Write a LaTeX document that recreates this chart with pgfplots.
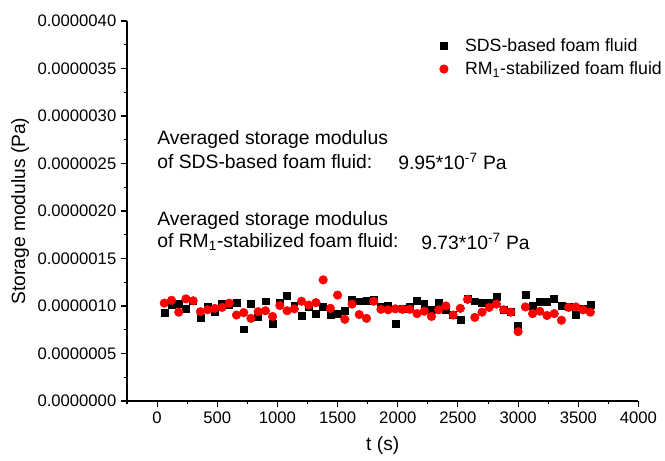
\documentclass[border=0pt]{standalone}
\usepackage{pgfplots}
\pgfplotsset{compat=1.18}
\usepackage{fontspec}
\setmainfont{Liberation Sans}
\definecolor{ptred}{RGB}{255,0,0}
\begin{document}
\begin{tikzpicture}
\useasboundingbox (-95.25pt,-45pt) rectangle (403.5pt,300.75pt);
\begin{axis}[
  scale only axis, width=383.6pt, height=285pt,
  at={(0,0)}, anchor=south west,
  xmin=-250, xmax=4000, ymin=0, ymax=4e-6,
  axis x line*=bottom, axis y line*=left,
  axis line style={line width=0.8pt},
  tick align=outside,
  major tick length=4.5pt, minor tick length=2.5pt,
  every tick/.style={line width=0.8pt, black},
  xtick={0,500,...,4000},
  minor xtick={-250,250,750,1250,1750,2250,2750,3250,3750},
  ytick={0,5e-7,1e-6,1.5e-6,2e-6,2.5e-6,3e-6,3.5e-6,4e-6},
  yticklabels={0.0000000,0.0000005,0.0000010,0.0000015,0.0000020,0.0000025,0.0000030,0.0000035,0.0000040},
  minor ytick={2.5e-7,7.5e-7,1.25e-6,1.75e-6,2.25e-6,2.75e-6,3.25e-6,3.75e-6},
  scaled y ticks=false, scaled x ticks=false,
  /pgf/number format/1000 sep={},
  /pgf/number format/assume math mode=true,
  tick label style={font=\fontsize{12.5}{14}\selectfont},
  xlabel={t (s)}, ylabel={Storage modulus (Pa)},
  label style={font=\fontsize{14.4}{16}\selectfont},
  xlabel style={at={(axis description cs:0.5,-0.118)}, anchor=center},
  ylabel style={at={(axis description cs:-0.209,0.5)}, anchor=center},
  legend style={draw=none, fill=none, at={(rel axis cs:0.603,0.968)}, anchor=north west,
    font=\fontsize{13.3}{15}\selectfont, row sep=2pt},
  legend cell align=left,
  legend image code/.code={\path (0.21cm,0cm) (0.78cm,0cm); \draw[#1] plot coordinates {(0.3cm,0cm)};},
  clip=false,
]
\addplot[only marks, mark=square*, mark size=2.6pt, black, mark options={fill=black, draw=black}] coordinates {
(60,9.30e-7) (120,1.010e-6) (180,1.020e-6) (240,9.75e-7) (300,1.050e-6) (360,8.80e-7)
(420,9.90e-7) (480,9.40e-7) (540,1.020e-6) (600,1.010e-6) (660,1.030e-6) (720,7.55e-7)
(780,1.020e-6) (840,8.90e-7) (900,1.050e-6) (960,8.10e-7) (1020,1.030e-6) (1080,1.110e-6)
(1140,1.000e-6) (1200,9.00e-7) (1260,9.90e-7) (1320,9.20e-7) (1380,9.90e-7) (1440,9.10e-7)
(1500,9.15e-7) (1560,9.50e-7) (1620,1.070e-6) (1680,1.050e-6) (1740,1.060e-6) (1800,1.070e-6)
(1860,9.90e-7) (1920,1.000e-6) (1980,8.10e-7) (2040,9.70e-7) (2100,9.90e-7) (2160,1.060e-6)
(2220,1.020e-6) (2280,9.60e-7) (2340,1.035e-6) (2400,9.65e-7) (2460,9.10e-7) (2520,8.60e-7)
(2580,1.080e-6) (2640,1.050e-6) (2700,1.035e-6) (2760,1.030e-6) (2820,1.100e-6) (2880,9.65e-7)
(2940,9.40e-7) (3000,7.90e-7) (3060,1.120e-6) (3120,1.000e-6) (3180,1.045e-6) (3240,1.045e-6)
(3300,1.080e-6) (3360,1.000e-6) (3420,9.90e-7) (3480,9.05e-7) (3540,9.75e-7) (3600,1.010e-6)
};
\addlegendentry{SDS-based foam fluid}
\addplot[only marks, mark=*, mark size=3.2pt, ptred, mark options={fill=ptred, draw=ptred}] coordinates {
(60,1.030e-6) (120,1.060e-6) (180,9.35e-7) (240,1.075e-6) (300,1.055e-6) (360,9.40e-7)
(420,9.60e-7) (480,9.75e-7) (540,9.85e-7) (600,1.030e-6) (660,9.05e-7) (720,9.30e-7)
(780,8.70e-7) (840,9.40e-7) (900,9.50e-7) (960,8.90e-7) (1020,1.005e-6) (1080,9.50e-7)
(1140,9.70e-7) (1200,1.050e-6) (1260,1.010e-6) (1320,1.035e-6) (1380,1.275e-6) (1440,9.75e-7)
(1500,1.115e-6) (1560,8.60e-7) (1620,1.020e-6) (1680,9.10e-7) (1740,8.70e-7) (1800,1.050e-6)
(1860,9.65e-7) (1920,9.60e-7) (1980,9.70e-7) (2040,9.65e-7) (2100,9.65e-7) (2160,9.20e-7)
(2220,9.45e-7) (2280,8.90e-7) (2340,9.60e-7) (2400,1.000e-6) (2460,9.05e-7) (2520,9.75e-7)
(2580,1.070e-6) (2640,8.80e-7) (2700,9.35e-7) (2760,9.85e-7) (2820,1.020e-6) (2880,9.60e-7)
(2940,9.35e-7) (3000,7.30e-7) (3060,9.90e-7) (3120,9.20e-7) (3180,9.45e-7) (3240,9.00e-7)
(3300,9.20e-7) (3360,8.50e-7) (3420,9.85e-7) (3480,9.90e-7) (3540,9.60e-7) (3600,9.35e-7)
};
\addlegendentry{RM\textsubscript{1}-stabilized foam fluid}
\begin{scope}[every node/.style={font=\fontsize{14.5}{16}\selectfont, anchor=base west, inner sep=0pt}]
\node at (rel axis cs:0.0587,0.674) {Averaged storage modulus};
\node at (rel axis cs:0.0587,0.613) {of SDS-based foam fluid:};
\node at (rel axis cs:0.530,0.610) {9.95*10\textsuperscript{-7} Pa};
\node at (rel axis cs:0.0587,0.463) {Averaged storage modulus};
\node at (rel axis cs:0.0587,0.403) {of RM\textsubscript{1}-stabilized foam fluid:};
\node at (rel axis cs:0.575,0.400) {9.73*10\textsuperscript{-7} Pa};
\end{scope}
\end{axis}
\end{tikzpicture}
\end{document}
